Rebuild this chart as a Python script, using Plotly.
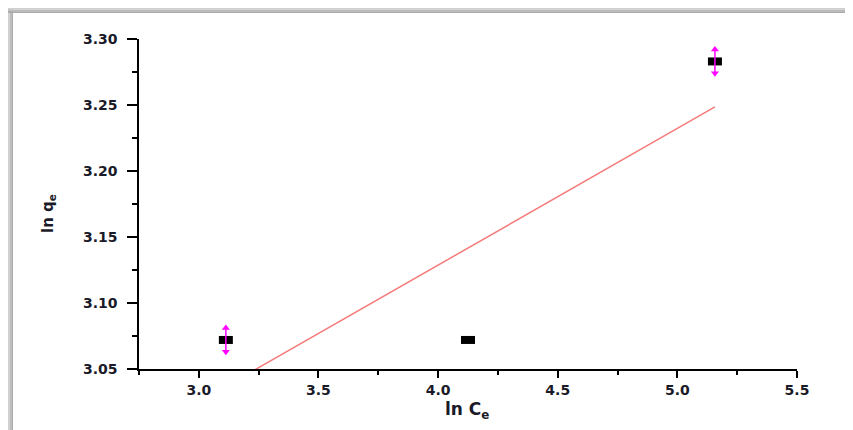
import numpy as np
import plotly.graph_objects as go

# ---- data ----
ln_ce = [3.113, 4.125, 5.157]
ln_qe = [3.072, 3.072, 3.283]
err = [0.009, 0.0, 0.009]

x_ticks = [3.0, 3.5, 4.0, 4.5, 5.0, 5.5]
y_ticks = [3.05, 3.10, 3.15, 3.20, 3.25, 3.30]

x_title = "<b>ln C<sub>e</sub></b>"
y_title = "<b>ln q<sub>e</sub></b>"

# linear fit (drawn over data range)
slope, intercept = np.polyfit(ln_ce, ln_qe, 1)
fit_x = [min(ln_ce), max(ln_ce)]
fit_y = [slope * v + intercept for v in fit_x]

ex = [x for x, e in zip(ln_ce, err) if e > 0]
ey = [y for y, e in zip(ln_qe, err) if e > 0]
ee = [e for e in err if e > 0]

FONT = "DejaVu Sans"
MAG = "#ff00ff"
TXT = "#1a1a28"

fig = go.Figure()
fig.add_trace(go.Scatter(x=fit_x, y=fit_y, mode="lines",
                         line=dict(color="#f47a7a", width=1.5), cliponaxis=True))
fig.add_trace(go.Scatter(x=ln_ce, y=ln_qe, mode="markers",
                         marker=dict(symbol="line-ew", size=10,
                                     line=dict(color="black", width=8))))
fig.add_trace(go.Scatter(x=ex, y=ey, mode="markers",
                         marker=dict(size=1, opacity=0),
                         error_y=dict(type="data", array=ee, visible=True,
                                      color=MAG, thickness=1.5, width=0)))
fig.add_trace(go.Scatter(x=ex, y=[y + e for y, e in zip(ey, ee)], mode="markers",
                         marker=dict(symbol="triangle-up", size=7, color=MAG)))
fig.add_trace(go.Scatter(x=ex, y=[y - e for y, e in zip(ey, ee)], mode="markers",
                         marker=dict(symbol="triangle-down", size=7, color=MAG)))

# page offset of the figure (default body margin)
OFF = 8
W, H = 853, 430
L, R, T, B = 139 - OFF, 797 - OFF, 39 - OFF, 369 - OFF

def px(x):
    return (x - OFF - L) / (R - L)
def py(y):
    return (B - (y - OFF)) / (B - T)

# decorative gray frame shadow (top and left bands)
grays = ["#cfcfcf", "#bcbcbc", "#aaaaaa"]
shapes = []
step = 5.0 / len(grays)
for i, g in enumerate(grays):
    a = OFF + i * step
    b = OFF + (i + 1) * step
    shapes.append(dict(type="rect", xref="paper", yref="paper", layer="below",
                       x0=px(OFF), x1=px(W + OFF), y0=py(b), y1=py(a),
                       fillcolor=g, line=dict(width=0)))
    shapes.append(dict(type="rect", xref="paper", yref="paper", layer="below",
                       x0=px(a), x1=px(b), y0=py(H + OFF), y1=py(a),
                       fillcolor=g, line=dict(width=0)))

annotations = [
    dict(text=x_title, xref="paper", yref="paper", x=px(467), y=py(410),
         xanchor="center", yanchor="middle", showarrow=False,
         font=dict(size=17, family=FONT, color=TXT)),
    dict(text=y_title, xref="paper", yref="paper", x=px(48), y=py(214),
         xanchor="center", yanchor="middle", showarrow=False, textangle=-90,
         font=dict(size=15, family=FONT, color=TXT)),
]

tickfont = dict(size=14, family=FONT, color=TXT, weight="bold")

fig.update_layout(
    width=W, height=H,
    margin=dict(l=L, r=W - R, t=T, b=H - B),
    paper_bgcolor="white", plot_bgcolor="white",
    showlegend=False,
    shapes=shapes,
    annotations=annotations,
    font=dict(family=FONT, color=TXT),
    xaxis=dict(range=[2.75, 5.5], tickvals=x_ticks,
               ticktext=[f"{v:.1f}" for v in x_ticks],
               showgrid=False, zeroline=False,
               showline=True, linecolor="black", linewidth=1.5,
               ticks="outside", ticklen=7, tickwidth=1.5, tickcolor="black",
               minor=dict(dtick=0.25, tick0=2.75, ticks="outside", ticklen=4,
                          tickwidth=1.5, tickcolor="black", showgrid=False),
               tickfont=tickfont),
    yaxis=dict(range=[3.05, 3.30], tickvals=y_ticks,
               ticktext=[f"{v:.2f}" for v in y_ticks],
               showgrid=False, zeroline=False,
               showline=True, linecolor="black", linewidth=1.5,
               ticks="outside", ticklen=10, tickwidth=1.5, tickcolor="black",
               ticklabelstandoff=7,
               minor=dict(dtick=0.025, tick0=3.05, ticks="outside", ticklen=5,
                          tickwidth=1.5, tickcolor="black", showgrid=False),
               tickfont=tickfont),
)

fig.write_html("out.html")
